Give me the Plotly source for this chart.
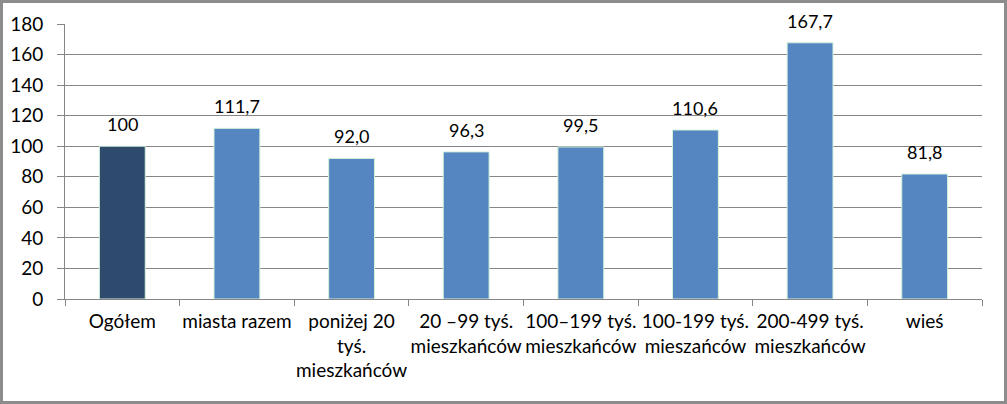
import plotly.graph_objects as go

categories = [
    "Ogółem",
    "miasta razem",
    "poniżej 20<br>tyś.<br>mieszkańców",
    "20 –99 tyś.<br>mieszkańców",
    "100–199 tyś.<br>mieszkańców",
    "100-199 tyś.<br>mieszańców",
    "200-499 tyś.<br>mieszkańców",
    "wieś",
]
values = [100, 111.7, 92.0, 96.3, 99.5, 110.6, 167.7, 81.8]
value_labels = ["100", "111,7", "92,0", "96,3", "99,5", "110,6", "167,7", "81,8"]
bar_colors = ["#2E4B6E"] + ["#5686C1"] * 7
y_ticks = [0, 20, 40, 60, 80, 100, 120, 140, 160, 180]

W, H = 1007, 404
L, R, T, B = 65, 25, 24, 105
pw, ph = W - L - R, H - T - B

FONT = "Lato, Open Sans, sans-serif"

fig = go.Figure(
    go.Bar(
        x=categories,
        y=values,
        marker=dict(color=bar_colors, line=dict(color="#D2F2DA", width=1)),
        hoverinfo="skip",
    )
)

for c, v, t in zip(categories, values, value_labels):
    fig.add_annotation(
        x=c, y=v, text=t, showarrow=False, yanchor="bottom", yshift=9,
        font=dict(size=18, color="#000000", family=FONT),
    )

fig.update_layout(
    width=W,
    height=H,
    margin=dict(l=L, r=R, t=T, b=B, autoexpand=False),
    paper_bgcolor="#FFFFFF",
    plot_bgcolor="#FFFFFF",
    bargap=0.6,
    showlegend=False,
    font=dict(family=FONT, size=18, color="#000000"),
    shapes=[
        dict(
            type="rect",
            xref="paper",
            yref="paper",
            x0=(1.5 - L) / pw,
            x1=(W - 1.5 - L) / pw,
            y0=-(H - 1.5 - T - ph) / ph,
            y1=(T - 1.5) / ph + 1,
            line=dict(color="#8C8C8C", width=3),
            layer="below",
        )
    ],
)

fig.update_xaxes(
    type="category",
    showline=True,
    linecolor="#868686",
    linewidth=1,
    ticks="outside",
    tickson="boundaries",
    ticklen=6,
    tickcolor="#868686",
    tickfont=dict(size=19, family=FONT),
    tickangle=0,
    ticklabelstandoff=5,
    automargin=False,
    showgrid=False,
)
fig.update_yaxes(
    range=[0, 180],
    tickvals=y_ticks,
    showline=True,
    linecolor="#868686",
    linewidth=1,
    ticks="outside",
    ticklen=7,
    tickcolor="#868686",
    showgrid=True,
    gridcolor="#868686",
    gridwidth=1,
    zeroline=False,
    automargin=False,
    tickfont=dict(size=19, family=FONT),
    ticklabelstandoff=10,
)

fig.write_html(
    "out.html",
    config={"displayModeBar": False},
    post_script="document.body.style.margin='0px';document.body.style.overflow='hidden';",
)
